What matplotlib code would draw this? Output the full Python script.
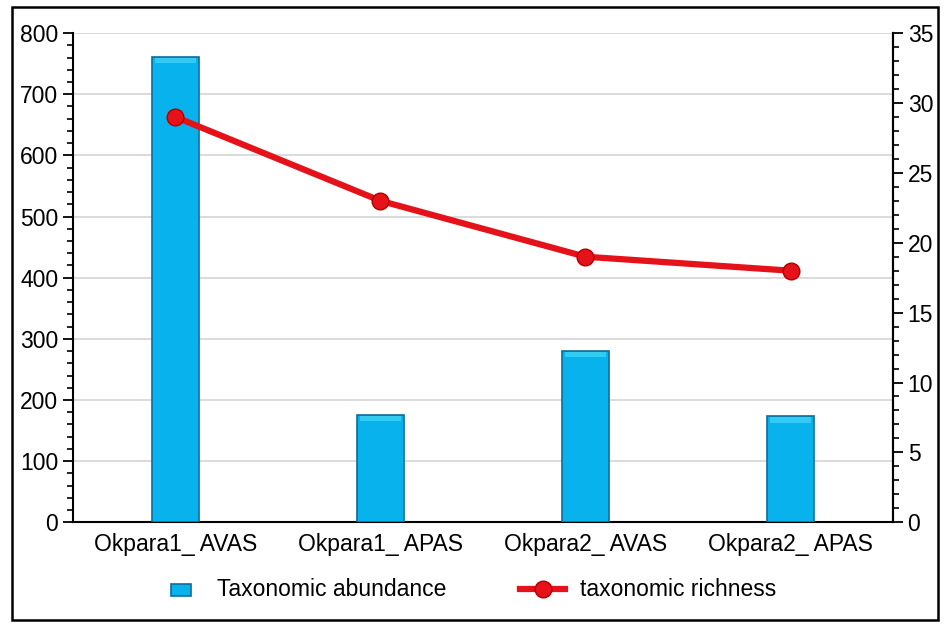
import numpy as np
import matplotlib.pyplot as plt
from matplotlib.patches import Rectangle
from matplotlib.legend_handler import HandlerPatch
from matplotlib.ticker import MultipleLocator

# sites and the two measures per site
sites = ['Okpara1_ AVAS', 'Okpara1_ APAS', 'Okpara2_ AVAS', 'Okpara2_ APAS']
abundance = [761, 175, 280, 173]
richness = [29, 23, 19, 18]

plt.rcParams['font.family'] = ['Liberation Sans', 'DejaVu Sans']
fs = 16.5

fig = plt.figure(figsize=(9.46, 6.24), dpi=100)
ax = fig.add_axes([0.077, 0.163, 0.867, 0.784])
ax2 = ax.twinx()

x = np.arange(len(sites))

# bars on the left axis
bars = ax.bar(x, abundance, width=0.23, color='#08B2EC', edgecolor='#0A6E98',
              linewidth=1.2, zorder=3, label='Taxonomic abundance')
# soft bevel along each bar top
for b in bars:
    ax.add_patch(Rectangle((b.get_x() + 0.015, b.get_height() - 10), b.get_width() - 0.03, 9,
                           facecolor='#3CD2F5', edgecolor='none', alpha=0.8, zorder=4))

ax.set_xlim(-0.5, len(sites) - 0.5)
ax.set_ylim(0, 800)
ax.yaxis.set_major_locator(MultipleLocator(100))
ax.yaxis.set_minor_locator(MultipleLocator(20))
ax.grid(axis='y', color='#d4d4d4', linewidth=1.2, zorder=0)
ax.set_axisbelow(True)
ax.set_xticks(x)
ax.set_xticklabels(sites)
ax.tick_params(axis='x', length=0, labelsize=fs, pad=8)
ax.tick_params(axis='y', which='major', length=7, width=1.3, labelsize=fs, direction='out')
ax.tick_params(axis='y', which='minor', length=4, width=1.2, direction='out')

# line on the right axis
line, = ax2.plot(x, richness, color='#E5121A', linewidth=4.5, marker='o', markersize=12,
                 markerfacecolor='#E5121A', markeredgecolor='#B00000', markeredgewidth=1,
                 zorder=5, label='taxonomic richness')
ax2.set_ylim(0, 35)
ax2.yaxis.set_major_locator(MultipleLocator(5))
ax2.yaxis.set_minor_locator(MultipleLocator(1))
ax2.tick_params(axis='y', which='major', length=7, width=1.3, labelsize=fs, direction='out')
ax2.tick_params(axis='y', which='minor', length=4, width=1.2, direction='out')

for a in (ax, ax2):
    a.spines['top'].set_visible(False)
    for s in ('left', 'right', 'bottom'):
        a.spines[s].set_linewidth(1.5)
ax2.spines['left'].set_visible(False)
ax2.spines['bottom'].set_visible(False)


def small_box(legend, orig_handle, xdescent, ydescent, width, height, fontsize):
    # narrow swatch for the bar series, set back from its label
    return Rectangle((xdescent + 11, ydescent + 1), 14, height - 2)


bar_handle = bars.patches[0]
fig.legend([bar_handle, line], ['Taxonomic abundance', 'taxonomic richness'],
           loc='center', bbox_to_anchor=(0.493, 0.055), ncol=2,
           frameon=False, fontsize=fs, handlelength=2.0, columnspacing=3.2,
           handleheight=0.6, handletextpad=0.65,
           handler_map={bar_handle: HandlerPatch(patch_func=small_box)})

# outer frame around the whole chart
fig.patches.append(Rectangle((0.013, 0.006), 0.979, 0.982, transform=fig.transFigure,
                             fill=False, edgecolor='black', linewidth=1.8))

fig.savefig('out.png', dpi=100)
